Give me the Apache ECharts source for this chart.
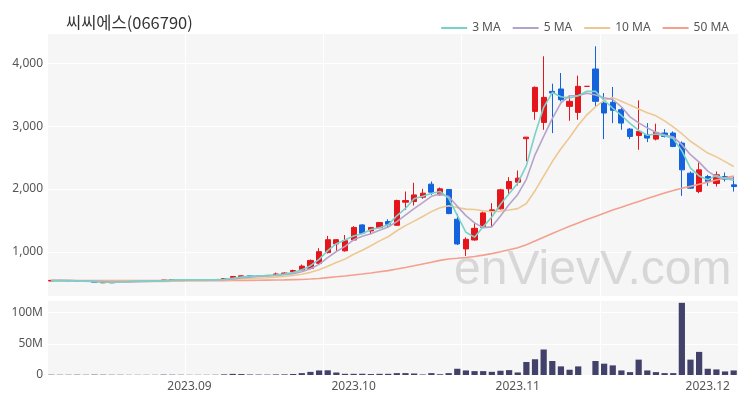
<!DOCTYPE html>
<html><head><meta charset="utf-8">
<script src="https://cdn.jsdelivr.net/npm/echarts@6/dist/echarts.min.js"></script>
<style>html,body{margin:0;padding:0;background:#fff}#c{width:750px;height:400px}</style>
</head><body><div id="c"></div>
<script>
const dates = [
 '2023-08-09','2023-08-10','2023-08-11','2023-08-14','2023-08-16','2023-08-17','2023-08-18','2023-08-21','2023-08-22','2023-08-23',
 '2023-08-24','2023-08-25','2023-08-28','2023-08-29','2023-08-30','2023-08-31',
 '2023-09-01','2023-09-04','2023-09-05','2023-09-06','2023-09-07','2023-09-08','2023-09-11','2023-09-12','2023-09-13','2023-09-14',
 '2023-09-15','2023-09-18','2023-09-19','2023-09-20','2023-09-21','2023-09-22','2023-09-25','2023-09-26','2023-09-27',
 '2023-10-04','2023-10-05','2023-10-06','2023-10-10','2023-10-11','2023-10-12','2023-10-13','2023-10-16','2023-10-17','2023-10-18',
 '2023-10-19','2023-10-20','2023-10-23','2023-10-24','2023-10-25','2023-10-26','2023-10-27','2023-10-30','2023-10-31',
 '2023-11-01','2023-11-02','2023-11-03','2023-11-06','2023-11-07','2023-11-08','2023-11-09','2023-11-10','2023-11-13','2023-11-14',
 '2023-11-15','2023-11-16','2023-11-17','2023-11-20','2023-11-21','2023-11-22','2023-11-23','2023-11-24','2023-11-27','2023-11-28',
 '2023-11-29','2023-11-30',
 '2023-12-01','2023-12-04','2023-12-05','2023-12-06'
];
const xTickLabels = ['2023.09','2023.10','2023.11','2023.12'];
const opens = [538,548,544,541,535,530,510,510,535,538, 535,538,536,545,556,560,556,558,553,556,
 565,595,610,620,618,622,632,645,685,712, 740,820,990,1127,1018,1190,1430,1334,1387,1483,
 1424,1791,1801,1870,2078,1907,1993,1520,1048,1190, 1392,1642,1685,2003,2109,2800,3234,3059,3552,3590,
 3314,3218,3632,3908,3367,3378,3261,2953,2852,2863, 2794,2890,2890,2730,2252,1960,2199,2088,2199,2067];
const closes = [548,544,541,535,530,520,515,516,538,535, 538,536,540,555,560,556,558,553,556,560,
 578,610,620,618,625,628,650,665,705,775, 865,1005,1195,1195,1180,1390,1297,1387,1467,1440,
 1817,1817,1907,1934,1950,2003,1610,1127,1201,1376, 1621,1669,1987,2120,2173,2825,3616,3457,3526,3420,
 3394,3632,3632,3394,3208,3251,3048,2836,2916,2810, 2900,2836,2677,2305,2014,2305,2120,2226,2157,2040];
const lows = [535,540,536,530,526,515,505,506,530,531, 532,532,533,542,552,552,552,550,550,552,
 560,590,605,612,612,618,628,640,680,705, 725,810,975,1000,1005,1180,1290,1281,1380,1392,
 1420,1669,1738,1844,1907,1900,1600,1110,937,1180, 1387,1403,1674,1923,2056,2440,3101,2942,2889,3394,
 3086,3101,3632,3314,2794,3048,2942,2794,2624,2746, 2773,2820,2666,1892,2004,1934,2051,2040,2120,1960];
const highs = [552,552,548,545,540,533,520,520,542,541, 541,540,543,558,563,562,562,560,559,565,
 585,618,628,626,630,634,672,675,718,800, 880,1060,1255,1205,1270,1410,1440,1395,1475,1520,
 1830,1960,2099,2003,2120,2025,2000,1605,1233,1456, 1642,1775,2003,2189,2295,2825,3630,4110,3675,3844,
 3474,3802,3632,4269,3526,3622,3288,2969,3409,3048, 3038,2953,2916,2757,2279,2422,2226,2279,2263,2199];
const volumesM = [0.5,0.4,0.4,0.5,0.4,0.6,0.5,0.4,0.4,0.3, 0.3,0.3,0.3,0.6,0.5,0.4,0.3,0.3,0.3,0.4,
 1.0,1.8,1.5,0.8,0.7,0.6,0.9,1.0,1.6,3.0, 5.0,7.3,7.5,4.0,1.9,1.9,2.0,1.5,1.9,1.9,
 3.0,3.0,2.4,0.8,3.0,1.2,3.0,10,7.3,6.2, 6.2,5.1,6.8,7.8,4.1,20.8,25.2,40.8,22.4,13.8,
 8.4,13.8,0,22.4,18.1,15.4,7.3,4.6,24.6,7.3, 4.6,3.0,3.0,115.5,24.6,37,10,8.9,5.7,7.3];
const ma3 = [545,546,544,540,535,528,522,517,523,530, 537,536,538,544,552,557,558,556,556,556,
 565,583,603,616,621,624,634,648,673,715, 782,882,1022,1132,1190,1255,1289,1358,1384,1431,
 1575,1691,1847,1886,1930,1962,1854,1580,1313,1235, 1399,1555,1759,1925,2093,2373,2871,3299,3533,3468,
 3447,3482,3553,3553,3411,3284,3169,3045,2933,2854, 2875,2849,2804,2606,2332,2208,2146,2217,2168,2141];
const ma5 = [545,545,545,542,540,534,528,523,524,525, 528,533,537,541,546,549,554,556,557,557,
 561,571,585,597,610,620,628,637,655,685, 732,803,909,1007,1088,1193,1251,1290,1344,1396,
 1482,1586,1690,1783,1885,1922,1881,1725,1578,1463, 1387,1399,1571,1755,1914,2155,2544,2838,3119,3369,
 3483,3486,3521,3494,3452,3423,3307,3147,3052,2972, 2902,2860,2828,2706,2546,2427,2284,2194,2164,2170];
const ma10 = [548,547,545,543,540,537,534,532,532,532, 531,530,530,532,535,539,543,547,549,551,
 555,563,571,577,583,591,600,611,626,647, 676,716,773,831,886,963,1027,1099,1176,1242,
 1337,1419,1490,1564,1641,1702,1733,1707,1681,1674, 1655,1640,1648,1666,1689,1771,1972,2205,2437,2641,
 2819,3015,3180,3307,3410,3453,3396,3334,3273,3212, 3163,3083,2988,2879,2759,2665,2572,2511,2435,2358];
const ma50 = [548,548,547,547,546,546,545,545,545,545, 545,545,545,545,545,545,545,545,545,545,
 545,546,547,549,550,552,554,556,560,563, 570,579,592,605,618,635,650,666,685,703,
 728,754,781,809,837,866,887,899,912,929, 950,973,1002,1034,1067,1113,1175,1234,1293,1351,
 1408,1460,1515,1565,1615,1665,1712,1757,1803,1848, 1893,1936,1977,2012,2042,2077,2110,2145,2177,2205];

const UP = '#e4161c', DOWN = '#1463dc';
const candleData = dates.map((d, i) => [opens[i], closes[i], lows[i], highs[i]]);
const volData = volumesM.map(v => v * 1e6);
const tickIdx = xTickLabels.map(t => dates.findIndex(d => d.slice(0, 7) === t.replace('.', '-')));

const chart = echarts.init(document.getElementById('c'), null, {renderer: 'canvas'});
const numFont = 'Noto Sans';
const gridBg = '#f6f6f6';
const splitLine = {show: true, lineStyle: {color: '#ffffff', width: 1}};
const maLine = (name, data, color) => ({
  name, type: 'line', data, xAxisIndex: 0, yAxisIndex: 0, symbol: 'none', smooth: false,
  lineStyle: {color, width: 1.6}, itemStyle: {color}, z: 5
});
chart.setOption({
  animation: false,
  backgroundColor: '#ffffff',
  title: {text: '씨씨에스(066790)', left: 61, top: 9,
    textStyle: {fontFamily: 'Noto Sans CJK KR', fontSize: 16.5, fontWeight: 'normal', color: '#333'}},
  legend: {
    right: 16, top: 17, icon: 'rect', itemWidth: 26, itemHeight: 2, itemGap: 12,
    textStyle: {fontFamily: numFont, fontSize: 12, color: '#555'},
    data: ['3 MA', '5 MA', '10 MA', '50 MA']
  },
  graphic: [{
    type: 'text', left: 454, top: 247, z: 1, silent: true,
    style: {text: 'enVievV.com', font: '48px "Liberation Sans", Arial, sans-serif', fill: 'rgba(195,195,195,0.6)'}
  }],
  grid: [
    {left: 47, right: 12, top: 33, height: 263, show: true, backgroundColor: gridBg, borderWidth: 0},
    {left: 47, right: 12, top: 300, height: 75, show: true, backgroundColor: gridBg, borderWidth: 0}
  ],
  xAxis: [
    {type: 'category', gridIndex: 0, data: dates, boundaryGap: true,
      axisLine: {show: false}, axisTick: {show: false}, axisLabel: {show: false}, splitLine: {show: false}},
    {type: 'category', gridIndex: 1, data: dates, boundaryGap: true,
      axisLine: {show: false}, axisTick: {show: false}, splitLine: {show: false},
      axisLabel: {
        interval: (idx) => tickIdx.includes(idx),
        formatter: (v, idx) => { const k = tickIdx.indexOf(idx); return k >= 0 ? xTickLabels[k] : ''; },
        color: '#555', fontFamily: numFont, fontSize: 12, margin: 6
      }},
    {type: 'value', gridIndex: 0, min: 0, max: 5, interval: 1, axisLine: {show: false}, axisTick: {show: false},
      axisLabel: {show: false}, splitLine},
    {type: 'value', gridIndex: 1, min: 0, max: 5, interval: 1, axisLine: {show: false}, axisTick: {show: false},
      axisLabel: {show: false}, splitLine}
  ],
  yAxis: [
    {type: 'value', gridIndex: 0, min: 300, max: 4480, splitNumber: 4, scale: true,
      axisLine: {show: false}, axisTick: {show: false}, splitLine,
      axisLabel: {showMinLabel: false, showMaxLabel: false, color: '#555', fontFamily: numFont, fontSize: 12, margin: 4,
        formatter: v => v.toLocaleString('en-US')}},
    {type: 'value', gridIndex: 1, min: 0, max: 120e6, interval: 50e6,
      axisLine: {show: false}, axisTick: {show: false}, splitLine,
      axisLabel: {showMaxLabel: false, color: '#555', fontFamily: numFont, fontSize: 12, margin: 4,
        formatter: v => v === 0 ? '0' : (v / 1e6) + 'M'}}
  ],
  series: [
    {name: 'price', type: 'candlestick', data: candleData, xAxisIndex: 0, yAxisIndex: 0, barWidth: '66%', z: 3,
      itemStyle: {color: UP, color0: DOWN, borderColor: UP, borderColor0: DOWN, borderWidth: 1}},
    maLine('50 MA', ma50, '#f4a08e'),
    maLine('10 MA', ma10, '#eec892'),
    maLine('5 MA', ma5, '#b6a3cc'),
    maLine('3 MA', ma3, '#79d2c9'),
    {name: 'volume', type: 'bar', data: volData, xAxisIndex: 1, yAxisIndex: 1, barWidth: '72%',
      itemStyle: {color: '#41416a'}}
  ]
});
</script></body></html>
